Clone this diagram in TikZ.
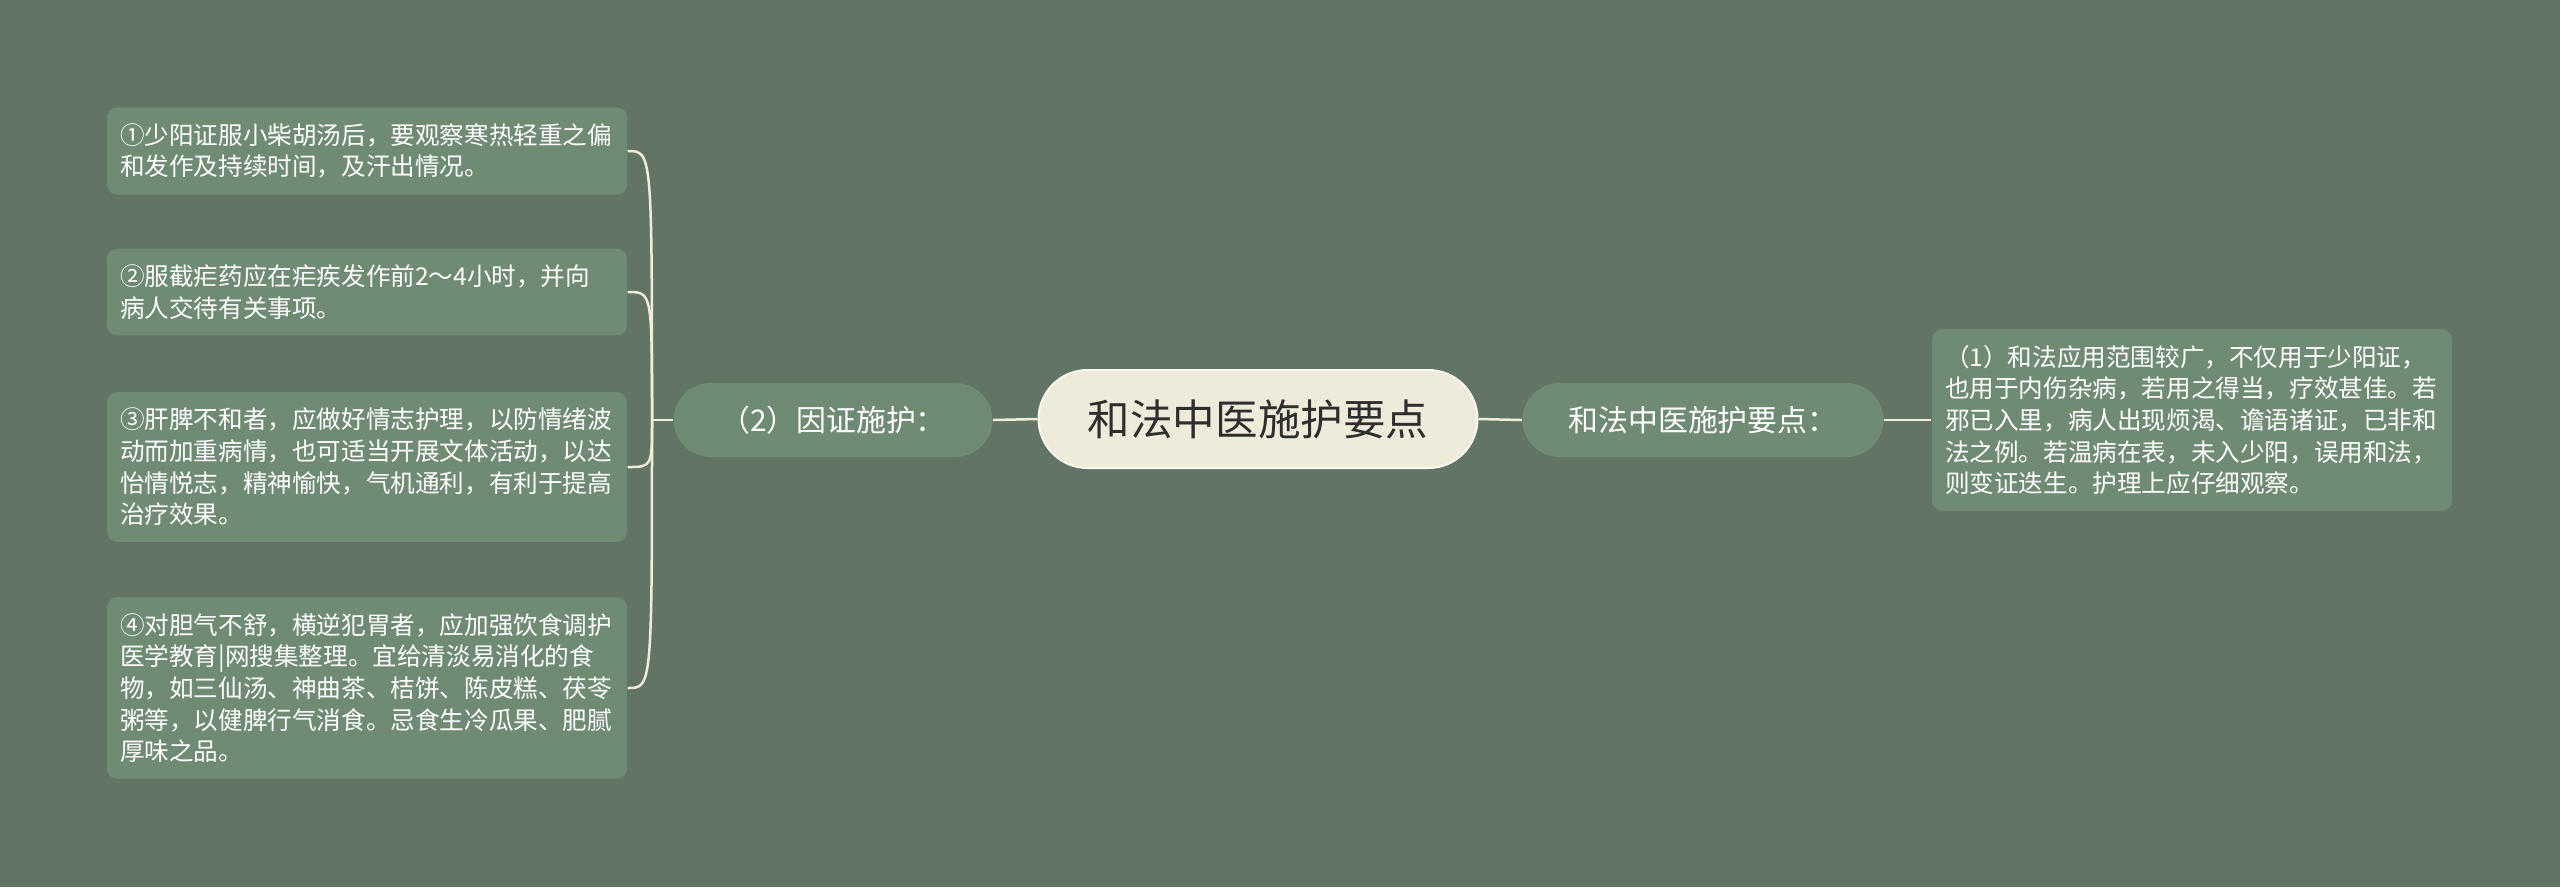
\documentclass[tikz,border=0pt]{standalone}
\usepackage{fontspec}
\setmainfont{Noto Sans CJK SC}
\usepackage{tikz}
\usetikzlibrary{positioning}
\definecolor{bgcol}{HTML}{627565}
\definecolor{boxfill}{HTML}{6F8B74}
\definecolor{centerfill}{HTML}{EFEBDB}
\definecolor{centertext}{HTML}{2E2E2E}
\definecolor{linkcol}{HTML}{F0ECDC}
\tikzset{
  topic/.style={fill=centerfill, draw=white!60!centerfill, line width=0.2mm, text=centertext,
    rounded corners=4.9mm, minimum width=43.9mm, minimum height=9.8mm,
    font=\fontsize{12.1pt}{14pt}\selectfont},
  branch/.style={fill=boxfill, text=white, rounded corners=3.7mm, minimum height=7.4mm,
    font=\fontsize{8.5pt}{10pt}\selectfont},
  leaf/.style={fill=boxfill, text=white, rounded corners=1mm, text width=49.4mm,
    inner xsep=1.3mm, inner ysep=1.6mm, align=left, font=\fontsize{7pt}{9pt}\selectfont},
  link/.style={draw=linkcol, line width=0.25mm}
}

\begin{document}
\begin{tikzpicture}[x=0.1mm,y=-0.1mm]
            \fill[bgcol] (0,0) rectangle (2560,887);
            \useasboundingbox (0,0) rectangle (2560,887);

            \node[topic] (root) at (1258,419) {和法中医施护要点};
            \node[branch, minimum width=31.9mm] (cause) at (833,420) {（2）因证施护：};
            \node[branch, minimum width=36.1mm] (key) at (1703,420) {和法中医施护要点：};

            \node[leaf] (scope) at (2192,420) {（1）和法应用范围较广，不仅用于少阳证，\\也用于内伤杂病，若用之得当，疗效甚佳。若\\邪已入里，病人出现烦渴、谵语诸证，已非和\\法之例。若温病在表，未入少阳，误用和法，\\则变证迭生。护理上应仔细观察。};

            \node[leaf] (c1) at (367,151) {①少阳证服小柴胡汤后，要观察寒热轻重之偏\\和发作及持续时间，及汗出情况。};
            \node[leaf] (c2) at (367,292) {②服截疟药应在疟疾发作前2～4小时，并向\\病人交待有关事项。};
            \node[leaf] (c3) at (367,467) {③肝脾不和者，应做好情志护理，以防情绪波\\动而加重病情，也可适当开展文体活动，以达\\怡情悦志，精神愉快，气机通利，有利于提高\\治疗效果。};
            \node[leaf] (c4) at (367,688) {④对胆气不舒，横逆犯胃者，应加强饮食调护\\医学教育|网搜集整理。宜给清淡易消化的食\\物，如三仙汤、神曲茶、桔饼、陈皮糕、茯苓\\粥等，以健脾行气消食。忌食生冷瓜果、肥腻\\厚味之品。};

            \coordinate (fork) at (652,420);

            \draw[link] (root.west) -- (cause.east);
            \draw[link] (root.east) -- (key.west);
            \draw[link] (key.east) -- (scope.west);
            \draw[link] (cause.west) -- (fork);
            \foreach \c in {c1,c2,c3,c4}
              \draw[link] (fork) .. controls (fork |- \c.east) .. (\c.east);

\end{tikzpicture}
\end{document}
